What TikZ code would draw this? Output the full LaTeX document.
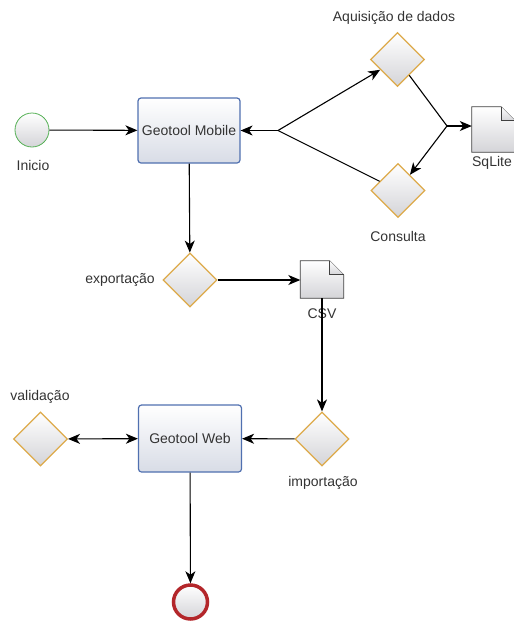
\documentclass[tikz,border=0pt]{standalone}
\usepackage{fontspec}
\setmainfont{Liberation Sans}
\usepackage{tikz}
\usetikzlibrary{shapes.geometric,arrows.meta}

\definecolor{taskline}{HTML}{5070B0}
\definecolor{taskfill}{HTML}{D8DCE6}
\definecolor{gateline}{HTML}{DDAA4A}
\definecolor{gatefill}{HTML}{D4D4D8}
\definecolor{startline}{HTML}{55B055}
\definecolor{endline}{HTML}{B3262A}

\begin{document}
\begin{tikzpicture}[x=1pt,y=-1pt]
\tikzstyle{every node}=[font=\fontsize{14}{16}\selectfont,text=black!80];
\tikzstyle{task}=[rectangle,rounded corners=3pt,draw=taskline,line width=1.2pt,top color=white,bottom color=taskfill,minimum width=102pt,minimum height=65pt];
\tikzstyle{gate}=[diamond,draw=gateline,line width=1.2pt,top color=white,bottom color=gatefill,minimum size=54pt,inner sep=0pt];
\tikzstyle{start}=[circle,draw=startline,line width=0.8pt,top color=white,bottom color=gatefill,minimum size=34pt,inner sep=0pt];
\tikzstyle{stop}=[circle,draw=endline,line width=3.5pt,top color=white,bottom color=gatefill,minimum size=34pt,inner sep=0pt];
\tikzstyle{doc}=[minimum width=43pt,inner sep=0pt];
\tikzstyle{docshape}=[draw=black!75,line width=0.8pt,top color=white,bottom color=gatefill];
\tikzstyle{lbl}=[inner sep=1pt];
\tikzstyle{arr}=[-{Stealth[length=12pt,width=10pt,inset=3.5pt]},line width=1.1pt];
\tikzstyle{arr2}=[{Stealth[length=12pt,width=10pt,inset=3.5pt]}-{Stealth[length=12pt,width=10pt,inset=3.5pt]},line width=1.1pt];
\tikzstyle{line}=[line width=1.1pt];
\useasboundingbox (0,0) rectangle (514,622);

% mobile
\path (32,130) node[start] (inicio) {};
\path (33,165) node[lbl] (t-inicio) {Inicio};
\path (189,130.5) node[task] (mob) {Geotool Mobile};
\path (397.5,59.5) node[gate] (aq) {};
\path (394,18) node[lbl] (t-aq) {Aquisição de dados};
\path (398,190.5) node[gate] (co) {};
\path (398,236) node[lbl] (t-co) {Consulta};
\path (493.5,129.5) node[doc,minimum height=45pt] (sq) {};
\path (492,163) node[lbl] (t-sq) {SqLite};
\coordinate (jL) at (278,130.5);
\coordinate (jR) at (447,126);

% export / import
\path (190,280) node[gate] (ex) {};
\path (120,280) node[lbl] (t-ex) {exportação};
\path (322,279.5) node[doc,minimum height=37pt] (csv) {};
\path (322,314) node[lbl] (t-csv) {CSV};
\path (322,439) node[gate] (im) {};
\path (323,483) node[lbl] (t-im) {importação};

% web
\path (190,438.5) node[task,minimum width=103pt,minimum height=67pt] (web) {Geotool Web};
\path (40.5,439) node[gate] (va) {};
\path (40,397) node[lbl] (t-va) {validação};
\path (190.5,602) node[stop] (fim) {};

% documents
\shade[docshape] (sq.south west) -- (sq.north west) -- ([xshift=-14pt]sq.north east) -- ([yshift=-14pt]sq.north east) -- (sq.south east) -- cycle;
\draw[docshape] ([xshift=-14pt]sq.north east) -- ([xshift=-14pt,yshift=-14pt]sq.north east) -- ([yshift=-14pt]sq.north east);
\shade[docshape] (csv.south west) -- (csv.north west) -- ([xshift=-14pt]csv.north east) -- ([yshift=-14pt]csv.north east) -- (csv.south east) -- cycle;
\draw[docshape] ([xshift=-14pt]csv.north east) -- ([xshift=-14pt,yshift=-14pt]csv.north east) -- ([yshift=-14pt]csv.north east);

\draw[arr] (inicio) -- (mob);
\draw[arr] (jL) -- (mob);
\draw[arr] (jL) -- (aq);
\draw[line] (co) -- (jL);
\draw[line] (aq) -- (jR);
\draw[arr] (jR) -- (jR -| sq.west);
\draw[arr] (jR) -- (co);
\draw[arr] (mob) -- (ex);
\draw[arr] (ex) -- (ex -| csv.west);
\draw[arr] (csv) -- (im);
\draw[arr] (im) -- (web);
\draw[arr2] (va) -- (web);
\draw[arr] (web) -- (fim);
\end{tikzpicture}
\end{document}
